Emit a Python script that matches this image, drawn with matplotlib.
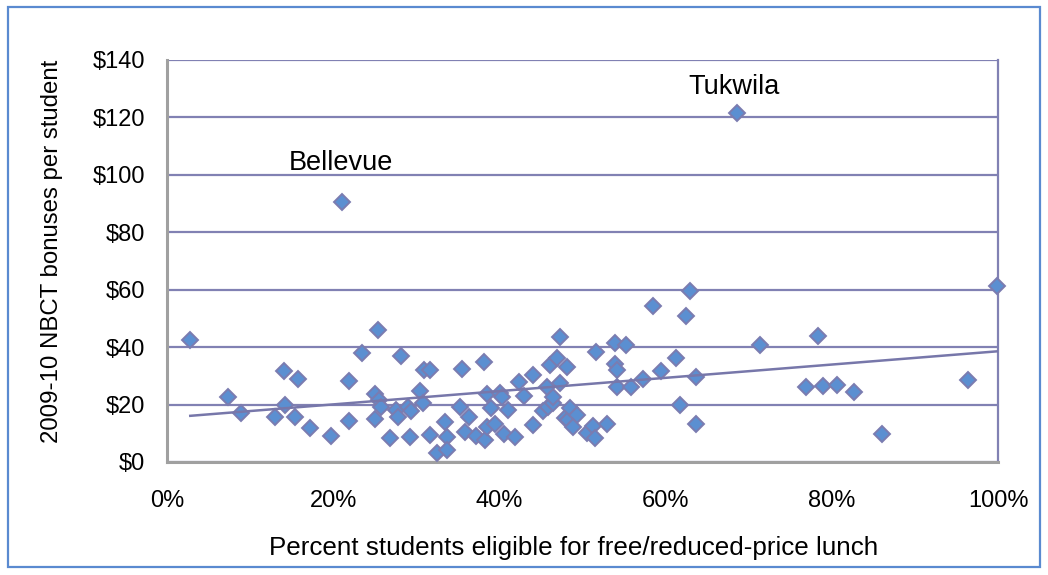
import numpy as np
import matplotlib
matplotlib.use("Agg")
import matplotlib.pyplot as plt
from matplotlib.patches import Rectangle

plt.rcParams['font.family'] = ['Liberation Sans', 'DejaVu Sans']

# percent of students eligible for free/reduced-price lunch
frl_pct = [2.8, 7.3, 8.9, 13.0, 14.1, 14.2, 15.4, 15.8, 17.2, 19.7,
           21.0, 21.9, 21.9, 23.5, 25.0, 25.0, 25.4, 25.5, 25.7, 26.8,
           27.6, 27.8, 28.2, 29.0, 29.4, 29.2, 30.4, 30.8, 30.9, 31.6,
           31.6, 32.5, 33.4, 33.7, 33.7, 35.2, 35.5, 35.9, 36.3, 37.2,
           38.1, 38.3, 38.5, 38.5, 39.0, 39.5, 40.1, 40.3, 40.6, 41.0,
           41.9, 42.3, 43.0, 44.0, 44.1, 45.2, 45.9, 46.4, 46.5, 45.7,
           46.1, 46.9, 47.3, 47.3, 48.1, 47.9, 48.3, 48.5, 49.3, 48.9,
           50.5, 51.3, 51.5, 51.6, 53.0, 53.9, 53.9, 54.1, 54.1, 55.2,
           55.8, 57.3, 58.5, 59.5, 61.3, 61.7, 62.5, 62.9, 63.6, 63.7,
           68.6, 71.3, 76.9, 78.3, 79.0, 80.6, 82.7, 86.0, 96.4, 99.9]
# 2009-10 NBCT bonuses per student ($)
bonus = [42.5, 22.5, 17.0, 15.7, 31.6, 20.0, 15.6, 29.0, 11.9, 9.2,
         90.7, 28.1, 14.2, 38.0, 15.0, 23.7, 46.0, 21.6, 19.3, 8.4,
         18.1, 15.6, 36.9, 19.1, 17.9, 8.6, 24.8, 20.7, 32.0, 32.0,
         9.4, 3.3, 14.1, 8.6, 4.2, 19.3, 32.3, 10.6, 15.6, 9.1,
         34.8, 7.7, 23.7, 12.1, 18.7, 13.2, 24.1, 22.5, 9.8, 18.2,
         8.7, 27.9, 23.0, 30.3, 12.9, 17.6, 19.3, 20.4, 22.7, 26.2,
         33.8, 36.1, 43.7, 27.4, 33.2, 15.2, 14.6, 18.7, 16.4, 12.3,
         10.1, 12.5, 8.2, 38.2, 13.2, 41.6, 34.0, 32.0, 26.1, 40.7,
         26.2, 28.8, 54.3, 31.8, 36.2, 19.9, 50.9, 59.7, 29.7, 13.2,
         121.4, 40.8, 26.0, 43.9, 26.5, 26.8, 24.3, 9.8, 28.6, 61.4]

labels = ["Bellevue", "Tukwila"]
label_pos = [(14.6, 104.0), (62.8, 130.7)]

x_ticks = [0, 20, 40, 60, 80, 100]
y_ticks = [0, 20, 40, 60, 80, 100, 120, 140]

grid_col = '#8181b3'
fig = plt.figure(figsize=(10.48, 5.75), dpi=100)
ax = fig.add_axes([167/1048, 1-462/575, (998-167)/1048, (462-60)/575])

ax.set_xlim(0, 100)
ax.set_ylim(0, 140)
ax.set_yticks(y_ticks)
ax.set_xticks(x_ticks)
ax.set_yticklabels(['$%d' % v for v in y_ticks])
ax.set_xticklabels(['%d%%' % v for v in x_ticks])
ax.yaxis.grid(True, color=grid_col, linewidth=1.6)
ax.set_axisbelow(True)
ax.tick_params(axis='both', length=0, labelsize=17, colors='black')
ax.tick_params(axis='y', pad=16)
ax.tick_params(axis='x', pad=20)
ax.spines['top'].set_visible(False)
ax.spines['right'].set_color(grid_col)
ax.spines['right'].set_linewidth(1.6)
ax.spines['left'].set_color('#a0a0a0')
ax.spines['left'].set_linewidth(2.2)
ax.spines['bottom'].set_color('#a0a0a0')
ax.spines['bottom'].set_linewidth(2.2)

x = np.array(frl_pct)
y = np.array(bonus)
ax.plot(x, y, linestyle='none', marker='D', markersize=8,
        markerfacecolor='#5b8fd1', markeredgecolor='#7b7cb0',
        markeredgewidth=1.4, zorder=3, clip_on=False)

# linear trendline (least squares)
m, b = np.polyfit(x, y, 1)
xs = np.array([x.min(), x.max()])
ax.plot(xs, m * xs + b, color='#7777aa', linewidth=1.8, zorder=4)

for t, (px, py) in zip(labels, label_pos):
    ax.text(px, py, t, fontsize=19.5, va='center', ha='left')

fig.text(574/1048, 1-548/575, 'Percent students eligible for free/reduced-price lunch',
         fontsize=18.7, ha='center', va='center')
fig.text(52/1048, 1-251/575, '2009-10 NBCT bonuses per student',
         fontsize=17.3, ha='center', va='center', rotation=90)

fig.patches.append(Rectangle((8/1048, 1-567/575), (1040-8)/1048, (567-7)/575,
                             transform=fig.transFigure, fill=False,
                             edgecolor='#5a8ad0', linewidth=1.6))

fig.savefig('out.png', dpi=100)
